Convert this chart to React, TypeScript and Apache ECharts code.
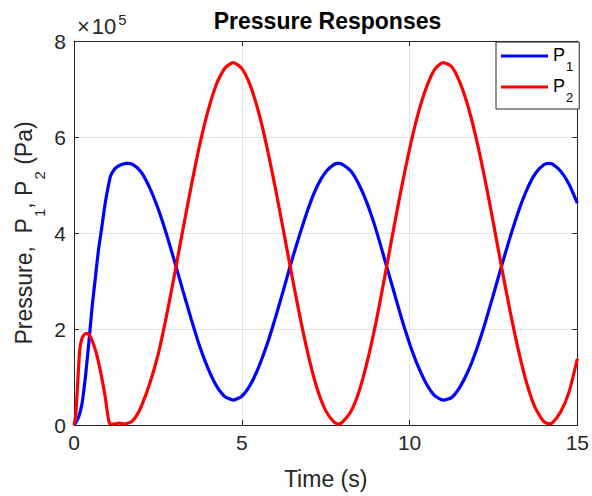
import React, { useEffect, useRef } from 'react';
import * as echarts from 'echarts';

// Pressures are stored in units of 1e5 Pa (the axis carries the ×10^5 multiplier).
const tP1 = [
  0, 0.04, 0.14, 0.24, 0.34, 0.44, 0.54, 0.64, 0.73, 0.83, 0.93, 1.08, 1.15, 1.23, 1.4, 1.57, 1.75, 2.0,
  2.25, 2.5, 2.75, 3.0, 3.25, 3.5, 3.75, 4.0, 4.25, 4.5, 4.75, 5.0, 5.25, 5.5, 5.75, 6.0, 6.25, 6.5,
  6.75, 7.0, 7.25, 7.5, 7.75, 7.88, 8.0, 8.25, 8.5, 8.75, 9.0, 9.25, 9.5, 9.75, 10.0, 10.25, 10.5, 10.75,
  11.0, 11.25, 11.5, 11.75, 12.0, 12.25, 12.5, 12.75, 13.0, 13.25, 13.5, 13.75, 14.0, 14.15, 14.25, 14.5,
  14.75, 15.0,
];
const p1 = [
  0, 0.03, 0.17, 0.45, 1.0, 1.7, 2.46, 3.09, 3.65, 4.13, 4.62, 5.17, 5.27, 5.35, 5.42, 5.45, 5.43, 5.27,
  4.95, 4.52, 3.99, 3.4, 2.79, 2.19, 1.63, 1.17, 0.81, 0.59, 0.52, 0.6, 0.83, 1.2, 1.67, 2.23, 2.83, 3.45,
  4.02, 4.55, 4.98, 5.27, 5.43, 5.45, 5.43, 5.29, 5.0, 4.59, 4.07, 3.47, 2.86, 2.25, 1.7, 1.23, 0.86, 0.61,
  0.52, 0.57, 0.79, 1.13, 1.58, 2.12, 2.72, 3.33, 3.92, 4.46, 4.91, 5.24, 5.42, 5.45, 5.44, 5.29,
  5.02, 4.62,
];

const tP2 = [
  0, 0.05, 0.11, 0.17, 0.24, 0.3, 0.37, 0.43, 0.49, 0.64, 0.78, 0.93, 1.06, 1.2, 1.35, 1.5, 1.62, 1.72,
  1.85, 2.0, 2.25, 2.5, 2.75, 3.0, 3.25, 3.5, 3.75, 4.0, 4.25, 4.5, 4.75, 5.0, 5.25, 5.5, 5.75, 6.0,
  6.25, 6.5, 6.75, 7.0, 7.25, 7.5, 7.75, 7.88, 8.0, 8.25, 8.5, 8.75, 9.0, 9.25, 9.5, 9.75, 10.0, 10.25,
  10.5, 10.75, 11.0, 11.25, 11.5, 11.75, 12.0, 12.25, 12.5, 12.75, 13.0, 13.25, 13.5, 13.75, 14.0,
  14.15, 14.25, 14.5, 14.75, 15.0,
];
const p2 = [
  0, 0.2, 0.87, 1.56, 1.81, 1.88, 1.91, 1.89, 1.84, 1.56, 1.15, 0.59, 0.03, 0.02, 0.04, 0.02, 0.04, 0.07,
  0.18, 0.38, 0.85, 1.45, 2.25, 3.15, 4.09, 5.0, 5.85, 6.56, 7.11, 7.44, 7.55, 7.43, 7.08, 6.52, 5.79, 4.94,
  4.02, 3.09, 2.2, 1.4, 0.75, 0.3, 0.06, 0.02, 0.06, 0.28, 0.71, 1.35, 2.14, 3.05, 3.99, 4.91, 5.75, 6.47,
  7.03, 7.41, 7.55, 7.47, 7.14, 6.62, 5.93, 5.11, 4.2, 3.26, 2.36, 1.54, 0.85, 0.35, 0.07,
  0.03, 0.04, 0.27, 0.68, 1.38,
];

const seriesNames = ['P1', 'P2'];
const seriesColors = ['#0000ff', '#ff0000'];
const xTicks = { min: 0, max: 15, interval: 5 };
const yTicks = { min: 0, max: 8, interval: 2 };

const FONT = '"Liberation Sans", Arial, Helvetica, sans-serif';
const INK = '#262626';
const GRID = '#e3e3e3';

const pairs = (t: number[], v: number[]) => t.map((x, i) => [x, v[i]]);

const boxAxisLine = { show: true, onZero: false, lineStyle: { color: INK, width: 1 } };
const boxTick = { show: true, inside: true, length: 5, lineStyle: { color: INK, width: 1 } };

export default function App() {
  const ref = useRef<HTMLDivElement>(null);

  useEffect(() => {
    if (!ref.current) return;
    const chart = echarts.init(ref.current, null, { renderer: 'svg' });

    const option: echarts.EChartsOption = {
      animation: false,
      backgroundColor: '#ffffff',
      grid: { left: 74, right: 11, top: 41, bottom: 71, containLabel: false },
      xAxis: [
        {
          type: 'value',
          ...xTicks,
          position: 'bottom',
          axisLine: boxAxisLine,
          axisTick: boxTick,
          axisLabel: { color: INK, fontSize: 21, fontFamily: FONT, margin: 7 },
          splitLine: { show: true, lineStyle: { color: GRID, width: 1 } },
          name: 'Time (s)',
          nameLocation: 'middle',
          nameGap: 42,
          nameTextStyle: { color: INK, fontSize: 23, fontFamily: FONT },
        },
        {
          type: 'value',
          ...xTicks,
          position: 'top',
          axisLine: boxAxisLine,
          axisTick: boxTick,
          axisLabel: { show: false },
          splitLine: { show: false },
        },
      ],
      yAxis: [
        {
          type: 'value',
          ...yTicks,
          position: 'left',
          axisLine: boxAxisLine,
          axisTick: boxTick,
          axisLabel: { color: INK, fontSize: 21, fontFamily: FONT, margin: 8 },
          splitLine: { show: true, lineStyle: { color: GRID, width: 1 } },
        },
        {
          type: 'value',
          ...yTicks,
          position: 'right',
          axisLine: boxAxisLine,
          axisTick: boxTick,
          axisLabel: { show: false },
          splitLine: { show: false },
        },
      ],
      legend: {
        orient: 'vertical',
        left: 496,
        top: 42,
        padding: [4, 6, 5, 5],
        itemGap: 4,
        itemWidth: 47,
        itemHeight: 3,
        icon: 'rect',
        borderColor: INK,
        borderWidth: 1,
        borderRadius: 0,
        backgroundColor: '#ffffff',
        selectedMode: false,
        data: seriesNames,
        formatter: (name: string) => `{m|${name.charAt(0)}}{s|${name.slice(1)}}`,
        textStyle: {
          color: '#000000',
          fontFamily: FONT,
          rich: {
            m: { fontSize: 18, lineHeight: 20, verticalAlign: 'top', fontFamily: FONT, color: '#000000' },
            s: {
              fontSize: 13,
              lineHeight: 14,
              padding: [14, 0, 0, 1],
              verticalAlign: 'top',
              fontFamily: FONT,
              color: '#000000',
            },
          },
        },
      },
      graphic: [
        {
          type: 'text',
          x: 327.5,
          y: 9,
          style: {
            text: 'Pressure Responses',
            font: `bold 23px ${FONT}`,
            fill: '#000000',
            align: 'center',
            verticalAlign: 'top',
          },
        },
        {
          type: 'text',
          x: 77,
          y: 7,
          style: {
            text: '{x|×}{a|10}{b|5}',
            fill: INK,
            verticalAlign: 'top',
            rich: {
              x: { fontSize: 22, lineHeight: 23, padding: [8, 2, 0, 0], verticalAlign: 'top', fontFamily: FONT, fill: INK },
              a: { fontSize: 22, lineHeight: 23, padding: [8, 0, 0, 0], verticalAlign: 'top', fontFamily: FONT, fill: INK },
              b: { fontSize: 15, lineHeight: 15, padding: [5, 0, 0, 2], verticalAlign: 'top', fontFamily: FONT, fill: INK },
            },
          },
        },
        {
          type: 'text',
          x: 25,
          y: 233,
          rotation: Math.PI / 2,
          style: {
            text: '{m|Pressure,  P}{s|1}{m|, P}{s|2}{m| (Pa)}',
            fill: INK,
            align: 'center',
            verticalAlign: 'middle',
            rich: {
              m: { fontSize: 23, lineHeight: 25, verticalAlign: 'top', fontFamily: FONT, fill: INK },
              s: { fontSize: 15, lineHeight: 16, padding: [19, 0, 0, 1], verticalAlign: 'top', fontFamily: FONT, fill: INK },
            },
          },
        },
      ],
      series: [
        {
          name: seriesNames[0],
          type: 'line',
          data: pairs(tP1, p1),
          showSymbol: false,
          symbol: 'none',
          smooth: 0.2,
          lineStyle: { width: 3.2, color: seriesColors[0] },
          itemStyle: { color: seriesColors[0] },
          silent: true,
        },
        {
          name: seriesNames[1],
          type: 'line',
          data: pairs(tP2, p2),
          showSymbol: false,
          symbol: 'none',
          smooth: 0.2,
          lineStyle: { width: 3.2, color: seriesColors[1] },
          itemStyle: { color: seriesColors[1] },
          silent: true,
        },
      ],
    };

    chart.setOption(option);
    return () => chart.dispose();
  }, []);

  return (
    <div
      ref={ref}
      style={{ position: 'fixed', left: 0, top: 0, width: 592, height: 496, background: '#ffffff' }}
    />
  );
}
